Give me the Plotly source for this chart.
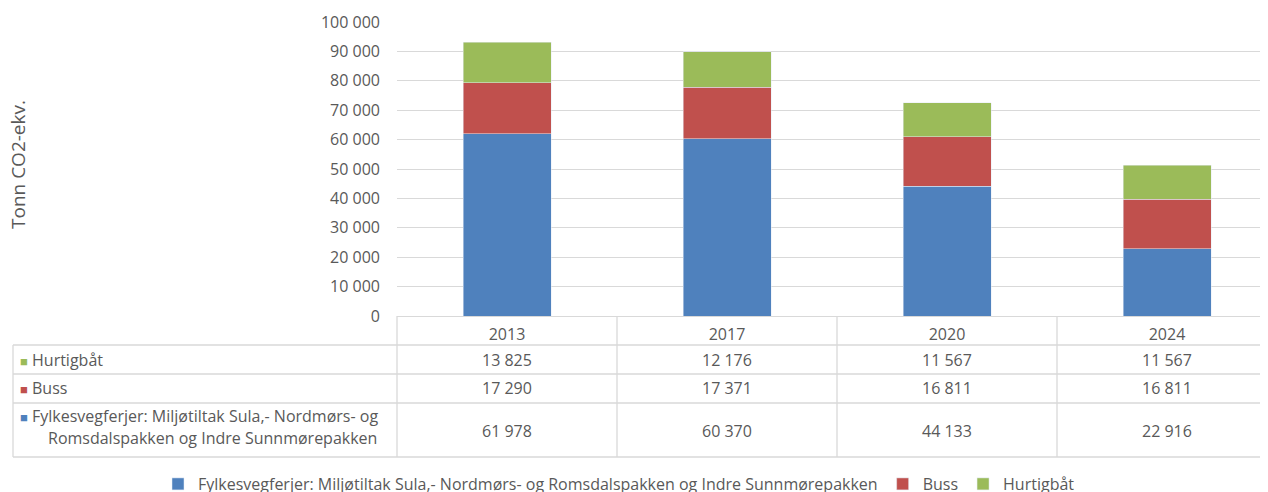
import plotly.graph_objects as go

# ---- data ----
years = ["2013", "2017", "2020", "2024"]
ferjer = [61978, 60370, 44133, 22916]
buss = [17290, 17371, 16811, 16811]
hurtigbat = [13825, 12176, 11567, 11567]

name_ferjer = "Fylkesvegferjer: Miljøtiltak Sula,- Nordmørs- og Romsdalspakken og Indre Sunnmørepakken"
name_ferjer_l1 = "Fylkesvegferjer: Miljøtiltak Sula,- Nordmørs- og"
name_ferjer_l2 = "Romsdalspakken og Indre Sunnmørepakken"
name_buss = "Buss"
name_hurtig = "Hurtigbåt"
y_title = "Tonn CO2-ekv."

c_blue, c_red, c_green = "#4F81BD", "#C0504D", "#9BBB59"
txt = "#595959"
grid = "#D9D9D9"
FONT = "Open Sans"
FS = 16

# ---- layout geometry (screen pixels; page body has an 8px margin) ----
OFF = 8
W, H = 1268 - OFF, 492 - OFF
L, T, B = 397, 22, 316          # plot area left, top, bottom (screen px)
CW = 220                         # category width in px
PW = (W + OFF) - L
PH = B - T

def py(p):   # screen pixel y -> paper y
    return (B - p) / PH

def px(p):   # screen pixel x -> paper x
    return (p - L) / PW

fig = go.Figure()
fig.add_bar(x=years, y=ferjer, name=name_ferjer, marker_color=c_blue)
fig.add_bar(x=years, y=buss, name=name_buss, marker_color=c_red)
fig.add_bar(x=years, y=hurtigbat, name=name_hurtig, marker_color=c_green)

shapes = []
annotations = []

# table row boundaries (screen pixels)
r1, r2, r3, r_end = 345, 374, 403, 457
tbl_left = 13
lw = 1.3
for yy in (r1, r2, r3, r_end):
    shapes.append(dict(type="line", xref="paper", yref="paper", x0=px(tbl_left), x1=1.0,
                       y0=py(yy), y1=py(yy), line=dict(color=grid, width=lw)))
shapes.append(dict(type="line", xref="paper", yref="paper", x0=px(tbl_left), x1=px(tbl_left),
                   y0=py(r1), y1=py(r_end), line=dict(color=grid, width=lw)))
shapes.append(dict(type="line", xref="paper", yref="paper", x0=0, x1=0,
                   y0=0, y1=py(r_end), line=dict(color=grid, width=lw)))
for i in range(1, len(years)):
    shapes.append(dict(type="line", xref="x", yref="paper", x0=i - 0.5, x1=i - 0.5,
                       y0=0, y1=py(r_end), line=dict(color=grid, width=lw)))

# table values
rows = [(hurtigbat, (r1 + r2) / 2), (buss, (r2 + r3) / 2), (ferjer, (r3 + r_end) / 2 + 1)]
def fmt(v):
    return f"{v:,}".replace(",", " ")
for vals, yc in rows:
    for i, v in enumerate(vals):
        annotations.append(dict(x=i, xref="x", y=py(yc), yref="paper", yanchor="middle",
                                xanchor="center", text=fmt(v), showarrow=False,
                                font=dict(size=FS, color=txt, family=FONT)))

# table row labels
def lab(text, color, yc):
    return dict(x=px(tbl_left + 5), xref="paper", xanchor="left", y=py(yc), yref="paper",
                yanchor="middle",
                text=f"<span style='color:{color};font-size:13px'>■</span> {text}", showarrow=False,
                font=dict(size=FS, color=txt, family=FONT))
annotations.append(lab(name_hurtig, c_green, (r1 + r2) / 2))
annotations.append(lab(name_buss, c_red, (r2 + r3) / 2))
annotations.append(lab(name_ferjer_l1, c_blue, 416))
annotations.append(dict(x=px(46), xref="paper", xanchor="left", y=py(438), yref="paper",
                        yanchor="middle", text=name_ferjer_l2, showarrow=False,
                        font=dict(size=FS, color=txt, family=FONT)))

# y axis title
annotations.append(dict(x=px(18), xref="paper", xanchor="center", y=py(165), yref="paper",
                        yanchor="middle", text=y_title, textangle=-90, showarrow=False,
                        font=dict(size=19, color=txt, family=FONT)))

fig.update_layout(
    width=W, height=H,
    margin=dict(l=L - OFF, r=0, t=T - OFF, b=(H + OFF) - B, pad=0, autoexpand=False),
    barmode="stack", bargap=0.6,
    plot_bgcolor="white", paper_bgcolor="white",
    separators=", ",
    font=dict(family=FONT, size=FS, color=txt),
    shapes=shapes, annotations=annotations,
    legend=dict(orientation="h", x=px(158), xanchor="left", y=py(484), yanchor="middle",
                traceorder="normal", itemwidth=30,
                font=dict(size=FS, color=txt, family=FONT)),
    xaxis=dict(range=[-0.5, -0.5 + PW / CW], showline=True, linecolor=grid, linewidth=lw,
               showgrid=False, ticks="", ticklabelstandoff=4, fixedrange=True, automargin=False),
    yaxis=dict(range=[0, 100000], dtick=10000, tickformat=",d", gridcolor=grid, gridwidth=1,
               zeroline=False, ticks="", ticklabelstandoff=16, showline=False, automargin=False),
)

fig.write_html("out.html")
